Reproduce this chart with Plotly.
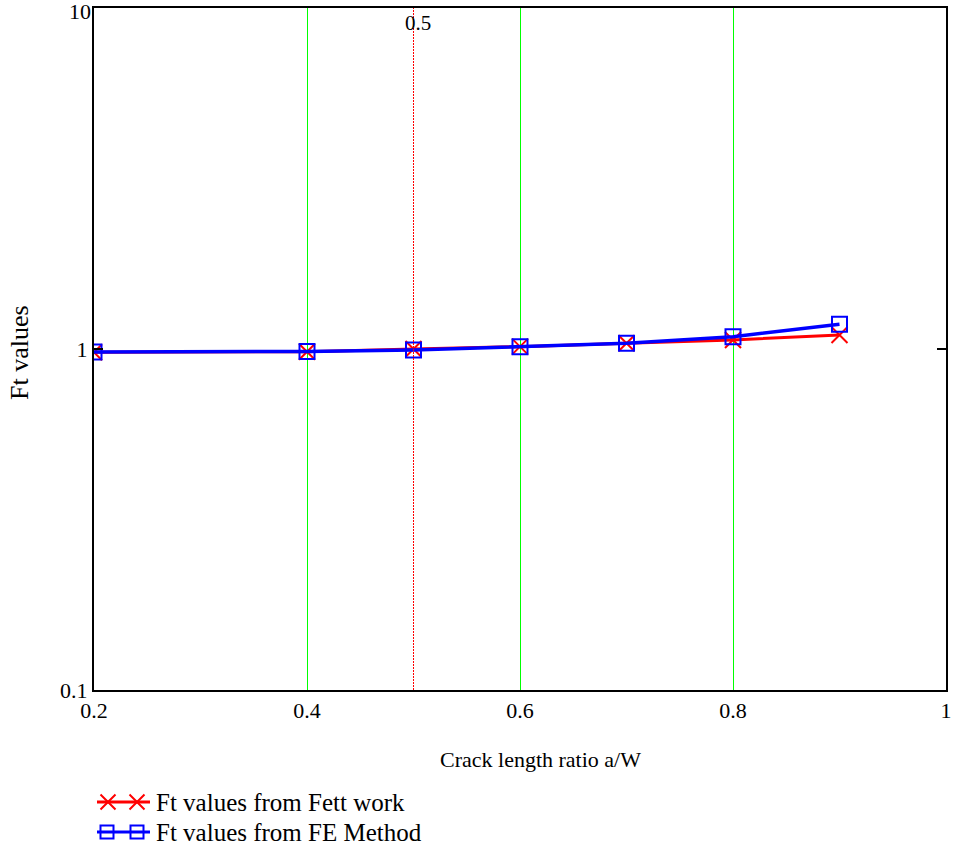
import plotly.graph_objects as go

# Crack length ratio a/W and Ft values
crack_ratio = [0.2, 0.4, 0.5, 0.6, 0.7, 0.8, 0.9]
ft_fett = [0.978, 0.982, 1.000, 1.016, 1.039, 1.063, 1.099]
ft_fe = [0.980, 0.984, 0.993, 1.016, 1.039, 1.087, 1.181]

marker_ratio = 0.5
x_ticks = [0.2, 0.4, 0.6, 0.8, 1.0]
x_ticktext = ["0.2", "0.4", "0.6", "0.8", "1"]
y_ticks = [0.1, 1, 10]
y_ticktext = ["0.1", "1", "10"]

series_names = ["Ft values from Fett work", "Ft values from FE Method"]

FONT = "Liberation Serif"
W, H = 955, 847
ML, MR, MT, MB = 94, 9, 8, 157
PW, PH = W - ML - MR, H - MT - MB


def px(x):
    """Horizontal pixel position -> paper coordinate."""
    return (x - ML) / PW


def py(y):
    """Vertical pixel position -> paper coordinate."""
    return (H - MB - y) / PH


RED = "#ff0000"
BLUE = "#0000ff"
GREEN = "#00ff00"

fig = go.Figure()

fig.add_trace(go.Scatter(
    x=crack_ratio, y=ft_fett, mode="lines+markers", name=series_names[0],
    line=dict(color=RED, width=3),
    marker=dict(symbol="x-thin-open", size=16, line=dict(color=RED, width=2), color=RED),
    showlegend=False,
))
fig.add_trace(go.Scatter(
    x=crack_ratio, y=ft_fe, mode="lines+markers", name=series_names[1],
    line=dict(color=BLUE, width=3.5),
    marker=dict(symbol="square-open", size=15, line=dict(color=BLUE, width=2), color=BLUE),
    showlegend=False,
))

shapes = [
    dict(type="line", xref="x", yref="paper", x0=marker_ratio, x1=marker_ratio,
         y0=0, y1=1, line=dict(color=RED, width=1, dash="2px,1px")),
]

# Legend glyphs: a line with two markers each
row_fett, row_fe = 802, 832
shapes.append(dict(type="line", xref="paper", yref="paper",
                   x0=px(97), x1=px(150), y0=py(row_fett), y1=py(row_fett),
                   line=dict(color=RED, width=3)))
for cx in (108, 137):
    h = 7.5
    path = (f"M {px(cx - h)} {py(row_fett - h)} L {px(cx + h)} {py(row_fett + h)} "
            f"M {px(cx - h)} {py(row_fett + h)} L {px(cx + h)} {py(row_fett - h)}")
    shapes.append(dict(type="path", xref="paper", yref="paper", path=path,
                       line=dict(color=RED, width=2)))
shapes.append(dict(type="line", xref="paper", yref="paper",
                   x0=px(97), x1=px(150), y0=py(row_fe), y1=py(row_fe),
                   line=dict(color=BLUE, width=3)))
for cx in (107, 137):
    h = 6.5
    shapes.append(dict(type="rect", xref="paper", yref="paper",
                       x0=px(cx - h), x1=px(cx + h), y0=py(row_fe - h), y1=py(row_fe + h),
                       line=dict(color=BLUE, width=2)))

# The top decade label sits against the page edge, so it is placed as an
# annotation nudged slightly downward instead of as a regular tick label.
top_label = y_ticktext[-1]
axis_ticktext = y_ticktext[:-1] + [""]

annotations = [
    dict(x=0, y=1, xref="paper", yref="y", text=top_label,
         showarrow=False, xanchor="right", yanchor="middle", xshift=-1, yshift=-3,
         font=dict(family=FONT, size=22, color="black")),
    dict(x=marker_ratio, y=1, xref="x", yref="paper", text="0.5",
         showarrow=False, xanchor="center", yanchor="top", xshift=4, yshift=-1,
         font=dict(family=FONT, size=21, color="black")),
    dict(x=px(540), y=py(760), xref="paper", yref="paper", text="Crack length ratio a/W",
         showarrow=False, xanchor="center", yanchor="middle",
         font=dict(family=FONT, size=22, color="black")),
    dict(x=px(19), y=py(353), xref="paper", yref="paper", text="Ft values", textangle=-90,
         showarrow=False, xanchor="center", yanchor="middle",
         font=dict(family=FONT, size=26, color="black")),
]
for row_y, name in zip([row_fett, row_fe], series_names):
    annotations.append(dict(
        x=px(154), y=py(row_y), xref="paper", yref="paper", text=name,
        showarrow=False, xanchor="left", yanchor="middle",
        font=dict(family=FONT, size=25, color="black")))

fig.update_layout(
    width=W, height=H,
    margin=dict(l=ML, r=MR, t=MT, b=MB, autoexpand=False),
    paper_bgcolor="white", plot_bgcolor="white",
    font=dict(family=FONT, color="black", size=22),
    xaxis=dict(
        range=[0.2, 1.0],
        tickvals=x_ticks, ticktext=x_ticktext, ticks="",
        showgrid=True, gridcolor=GREEN, gridwidth=1,
        showline=True, linecolor="black", linewidth=2, mirror=True,
        zeroline=False, automargin=False,
        tickfont=dict(family=FONT, size=22),
    ),
    yaxis=dict(
        type="log", range=[-1, 1],
        tickvals=y_ticks, ticktext=axis_ticktext,
        ticks="inside", ticklen=9, tickwidth=1.5, tickcolor="black",
        showgrid=False,
        showline=True, linecolor="black", linewidth=2, mirror="ticks",
        zeroline=False, automargin=False,
        ticklabelstandoff=0,
        tickfont=dict(family=FONT, size=22),
    ),
    shapes=shapes,
    annotations=annotations,
    showlegend=False,
)

fig.write_html("out.html")
